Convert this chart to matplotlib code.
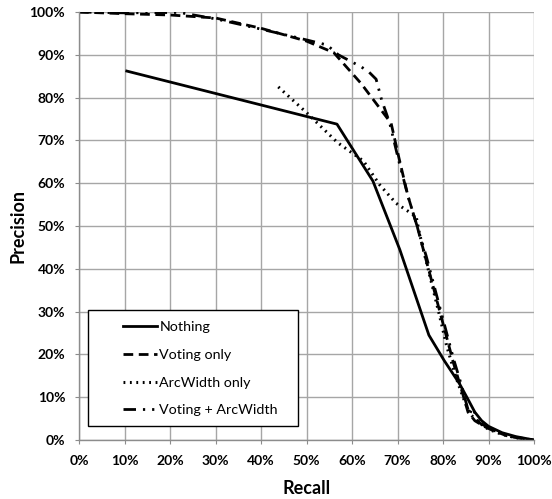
import matplotlib
matplotlib.use('Agg')
import matplotlib.pyplot as plt
from matplotlib.patches import Rectangle
from matplotlib.ticker import FuncFormatter, MultipleLocator

plt.rcParams['font.family'] = ['Lato', 'DejaVu Sans']

# Precision / recall curves (percent)
recall_nothing = [10.5, 56.7, 64.6, 70.5, 76.9, 80.3, 83.6, 85.5, 87, 88.5, 90, 93, 96, 100]
prec_nothing = [86.2, 73.8, 60.5, 44.5, 24.5, 18.5, 13.2, 9.5, 6.5, 4.5, 3.2, 1.7, 0.8, 0]

recall_voting = [0, 10, 20, 30, 40, 50, 56, 62, 68.6, 70.3, 72.3, 74.3, 76.3,
                 78.3, 80.3, 82.3, 84, 85.5, 87, 89, 91, 94, 97, 100]
prec_voting = [100, 99.6, 99.3, 98.6, 96.2, 93.2, 90.5, 83.3, 74, 66, 57, 50, 42,
               34, 26, 18, 12, 6.5, 4.5, 3.2, 2.2, 1, 0.4, 0]

recall_arc = [43.8, 50, 56.8, 62.5, 66.1, 69.7, 74.1, 74.8, 75.8, 77.3, 79.1, 80.8, 82.8,
              84.4, 86, 88, 90, 93, 96, 100]
prec_arc = [82.5, 76.5, 69.5, 65.2, 59.6, 55.3, 52.2, 48.4, 44, 37.5, 29.7, 22, 14.8,
            10, 6, 4, 2.5, 1.3, 0.5, 0]

recall_both = [0, 10, 22, 30, 40, 48, 54.5, 57, 62, 63.7, 65.3, 66.5, 68.3, 70.1,
               72.3, 74.3, 76.3, 78.3, 80.3, 82.3, 84, 85, 85.8, 86.5, 88, 91, 95, 100]
prec_both = [100, 99.8, 99.9, 98.4, 96, 94, 92.3, 90, 87.2, 86, 84.3, 79.5, 74, 66,
             57, 50, 43, 35, 27, 19, 13, 9, 6, 7.5, 4, 2.3, 0.8, 0]

labels = ['Nothing', 'Voting only', 'ArcWidth only', 'Voting + ArcWidth']


def main():
  fig = plt.figure(figsize=(5.52, 4.99), dpi=100)
  ax = fig.add_axes([79 / 552, 59 / 499, 455 / 552, 428 / 499])

  lw = 2.0
  ax.plot(recall_nothing, prec_nothing, color='black', lw=lw, ls='-', label=labels[0])
  ax.plot(recall_voting, prec_voting, color='black', lw=lw, ls=(0, (3.5, 2)), label=labels[1])
  ax.plot(recall_arc, prec_arc, color='black', lw=lw + 0.2, ls=(0, (0.6, 1.5)), label=labels[2])
  ax.plot(recall_both, prec_both, color='black', lw=lw,
          ls=(0, (4.5, 2.5, 0.8, 2.5, 0.8, 2.5)), label=labels[3])

  ax.set_xlim(0, 100)
  ax.set_ylim(0, 100)
  ax.xaxis.set_major_locator(MultipleLocator(10))
  ax.yaxis.set_major_locator(MultipleLocator(10))
  pct = FuncFormatter(lambda v, p: f'{int(round(v))}%')
  ax.xaxis.set_major_formatter(pct)
  ax.yaxis.set_major_formatter(pct)

  ax.grid(True, color='#a6a6a6', lw=1.0)
  ax.set_axisbelow(True)
  for s in ['top', 'right']:
    ax.spines[s].set_visible(False)
  for s in ['left', 'bottom']:
    ax.spines[s].set_color('#8c8c8c')
    ax.spines[s].set_linewidth(1.0)
  ax.tick_params(direction='out', length=3, color='#8c8c8c', labelsize=10)
  ax.tick_params(axis='y', pad=7)
  ax.tick_params(axis='x', pad=8)
  for t in ax.get_xticklabels() + ax.get_yticklabels():
    t.set_fontweight('bold')

  ax.set_xlabel('Recall', fontsize=13, fontweight='bold', labelpad=9)
  ax.set_ylabel('Precision', fontsize=13, fontweight='bold', labelpad=2)

  # legend box
  ax.add_patch(Rectangle((0.02, 0.033), 0.461, 0.271, transform=ax.transAxes,
                         facecolor='white', edgecolor='black', lw=1.0, zorder=5))
  leg = ax.legend(loc='upper left', bbox_to_anchor=(0.087, 0.288), frameon=False,
                  fontsize=10.3, handlelength=2.4, handletextpad=0.15,
                  labelspacing=1.1, borderpad=0.3, borderaxespad=0)
  leg.set_zorder(6)

  plt.savefig('out.png', dpi=100)


if __name__ == '__main__':
  main()
